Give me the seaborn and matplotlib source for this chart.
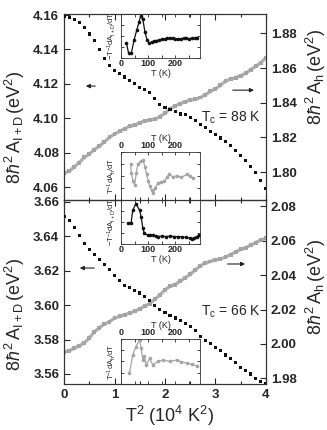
import matplotlib
matplotlib.use("Agg")
import matplotlib.pyplot as plt
import seaborn as sns
import pandas as pd
from matplotlib.ticker import MultipleLocator, NullFormatter

# ============================
# DATA
# ============================
t2 = [0.0, 0.1, 0.2, 0.3, 0.4, 0.5, 0.6, 0.7, 0.8, 0.9,
      1.0, 1.1, 1.2, 1.3, 1.4, 1.5, 1.6, 1.7, 1.8, 1.9,
      2.0, 2.1, 2.2, 2.3, 2.4, 2.5, 2.6, 2.7, 2.8, 2.9,
      3.0, 3.1, 3.2, 3.3, 3.4, 3.5, 3.6, 3.7, 3.8, 3.9, 4.0]

# Tc = 88 K
a_id_88 = [4.1590, 4.1585, 4.1575, 4.1555, 4.1530, 4.1490, 4.1450, 4.1400, 4.1345, 4.1305,
           4.1280, 4.1262, 4.1240, 4.1220, 4.1200, 4.1180, 4.1165, 4.1150, 4.1115, 4.1080,
           4.1065, 4.1050, 4.1040, 4.1025, 4.1020, 4.1005, 4.0985, 4.0965, 4.0945, 4.0925,
           4.0905, 4.0885, 4.0865, 4.0840, 4.0815, 4.0785, 4.0755, 4.0720, 4.0685, 4.0640, 4.0590]
a_h_88 = [1.7995, 1.8005, 1.8030, 1.8055, 1.8085, 1.8105, 1.8130, 1.8150, 1.8175, 1.8200,
          1.8220, 1.8235, 1.8250, 1.8265, 1.8270, 1.8285, 1.8295, 1.8300, 1.8305, 1.8320,
          1.8340, 1.8365, 1.8380, 1.8395, 1.8405, 1.8415, 1.8420, 1.8430, 1.8445, 1.8465,
          1.8480, 1.8500, 1.8525, 1.8535, 1.8545, 1.8555, 1.8570, 1.8590, 1.8610, 1.8630, 1.8660]

# Tc = 66 K
a_id_66 = [3.6515, 3.6490, 3.6450, 3.6405, 3.6355, 3.6320, 3.6295, 3.6265, 3.6235, 3.6205,
           3.6170, 3.6140, 3.6115, 3.6100, 3.6085, 3.6070, 3.6050, 3.6025, 3.6000, 3.5975,
           3.5955, 3.5940, 3.5925, 3.5910, 3.5895, 3.5875, 3.5850, 3.5820, 3.5795, 3.5775,
           3.5755, 3.5735, 3.5710, 3.5690, 3.5665, 3.5640, 3.5620, 3.5600, 3.5575, 3.5555, 3.5545]
a_h_66 = [1.9955, 1.9960, 1.9975, 1.9990, 2.0005, 2.0035, 2.0070, 2.0095, 2.0115, 2.0130,
          2.0150, 2.0160, 2.0170, 2.0180, 2.0190, 2.0205, 2.0220, 2.0235, 2.0260, 2.0285,
          2.0315, 2.0335, 2.0345, 2.0365, 2.0385, 2.0405, 2.0430, 2.0455, 2.0470, 2.0480,
          2.0490, 2.0495, 2.0505, 2.0520, 2.0535, 2.0550, 2.0560, 2.0575, 2.0590, 2.0605, 2.0615]

# insets: derivative curves (arb. units)
t_in_id_88 = [20, 28, 38, 48, 58, 66, 72, 80, 88, 96, 104, 112, 120, 130, 140, 150, 160,
              170, 180, 190, 200, 210, 220, 230, 240, 250, 260, 270, 280]
d_id_88 = [0.34, 0.11, 0.11, 0.41, 0.64, 0.82, 0.95, 0.89, 0.59, 0.41, 0.34, 0.36, 0.38,
           0.40, 0.41, 0.43, 0.44, 0.45, 0.46, 0.45, 0.44, 0.43, 0.44, 0.45, 0.45, 0.44,
           0.45, 0.45, 0.46]

t_in_h_88 = [35, 38, 44, 50, 56, 62, 72, 82, 88, 94, 100, 106, 112, 118, 126, 135, 147,
             159, 168, 177, 190, 206, 222, 241, 253, 265]
d_h_88 = [0.75, 0.55, 0.40, 0.32, 0.55, 0.75, 0.80, 0.82, 0.68, 0.53, 0.40, 0.28, 0.20,
          0.14, 0.25, 0.35, 0.38, 0.39, 0.47, 0.53, 0.48, 0.50, 0.47, 0.53, 0.49, 0.46]

t_in_id_66 = [24, 37, 43, 55, 68, 74, 80, 86, 98, 108, 117, 127, 136, 150, 165, 180, 195,
              210, 225, 240, 252, 260, 268, 278, 288]
d_id_66 = [0.47, 0.47, 0.77, 0.92, 0.77, 0.62, 0.36, 0.24, 0.20, 0.21, 0.20, 0.19, 0.17,
           0.18, 0.17, 0.18, 0.17, 0.17, 0.16, 0.15, 0.13, 0.12, 0.14, 0.17, 0.21]

t_in_h_66 = [31, 43, 55, 68, 74, 80, 86, 93, 105, 117, 136, 154, 179, 204, 222, 241, 260, 278]
d_h_66 = [0.24, 0.64, 0.83, 0.98, 0.79, 0.53, 0.61, 0.42, 0.57, 0.42, 0.50, 0.53, 0.50,
          0.53, 0.49, 0.46, 0.44, 0.40]

GREY = "#a4a4a4"
BLACK = "#111111"

# ============================
# STYLE
# ============================
sns.set_style("ticks")
plt.rcParams["font.family"] = ["Liberation Sans", "DejaVu Sans"]
plt.rcParams["font.weight"] = "bold"          # tick labels look heavy in the scan
plt.rcParams["mathtext.fontset"] = "custom"   # axis labels stay regular
plt.rcParams["mathtext.rm"] = "Liberation Sans:weight=normal"
plt.rcParams["mathtext.it"] = "Liberation Sans:style=italic:weight=normal"
plt.rcParams["xtick.direction"] = "in"
plt.rcParams["ytick.direction"] = "in"
plt.rcParams["axes.edgecolor"] = "#333333"
plt.rcParams["axes.linewidth"] = 0.8

fig = plt.figure(figsize=(3.27, 4.30), dpi=100)
ax_top = fig.add_axes([0.196, 0.535, 0.617, 0.432])
ax_bot = fig.add_axes([0.196, 0.107, 0.617, 0.428])

LBL_ID = r"$8\hbar^2\,\mathrm{A_{I+D}}\,\mathrm{(eV^2)}$"
LBL_H = r"$8\hbar^2\,\mathrm{A_h}\,\mathrm{(eV^2)}$"


def main_panel(ax, a_id, a_h, id_lim, h_lim, id_ticks, h_ticks, tc, tc_y,
               arr_l, arr_r, lab_l_y, lab_r_y, bottom):
    df = pd.DataFrame({"t2": t2, "a_id": a_id, "a_h": a_h})
    axr = ax.twinx()
    sns.lineplot(data=df, x="t2", y="a_h", ax=axr, color=GREY, lw=2.4, alpha=0.85)
    sns.scatterplot(data=df, x="t2", y="a_h", ax=axr, color=GREY, s=8,
                    marker="s", edgecolor="none")
    sns.scatterplot(data=df, x="t2", y="a_id", ax=ax, color=BLACK, s=5,
                    marker="s", edgecolor="none", zorder=3)
    ax.set_zorder(axr.get_zorder() + 1)
    ax.patch.set_visible(False)

    ax.set_xlim(0, 4)
    ax.set_ylim(*id_lim)
    axr.set_ylim(*h_lim)
    ax.set_yticks(id_ticks)
    axr.set_yticks(h_ticks)
    ax.set_yticklabels([f"{v:.2f}" for v in id_ticks])
    axr.set_yticklabels([f"{v:.2f}" for v in h_ticks])
    ax.xaxis.set_major_locator(MultipleLocator(1))
    ax.xaxis.set_minor_locator(MultipleLocator(0.5))
    ax.tick_params(axis="x", which="both", top=True, bottom=True)
    ax.tick_params(which="major", length=4, width=0.8, labelsize=9.5)
    ax.tick_params(which="minor", length=2.5, width=0.8)
    axr.tick_params(which="major", length=4, width=0.8, labelsize=9.5)
    for a in (ax, axr):
        for s in a.spines.values():
            s.set_visible(True)

    ax.set_ylabel(LBL_ID, fontsize=13, fontweight="normal")
    ax.yaxis.set_label_coords(-0.185, lab_l_y)
    axr.set_ylabel(LBL_H, fontsize=13, rotation=90, fontweight="normal")
    axr.yaxis.set_label_coords(1.19, lab_r_y)

    if bottom:
        ax.set_xticks([0, 1, 2, 3, 4])
        ax.set_xticklabels(["0", "1", "2", "3", "4"])
        ax.set_xlabel(r"$\mathrm{T^2\ (10^4\ K^2)}$", fontsize=13, fontweight="normal")
        ax.xaxis.set_label_coords(0.52, -0.11)
    else:
        ax.xaxis.set_major_formatter(NullFormatter())
        ax.set_xlabel("")

    ax.text(0.975, tc_y, r"$\mathrm{T_c}$ = " + tc + " K", transform=ax.transAxes,
            ha="right", va="center", fontsize=10, fontweight="normal")
    ax.annotate("", xy=(arr_l[1], arr_l[2]), xytext=(arr_l[0], arr_l[2]),
                xycoords="axes fraction",
                arrowprops=dict(arrowstyle="-|>", lw=0.8, color="#222222",
                                mutation_scale=6))
    ax.annotate("", xy=(arr_r[1], arr_r[2]), xytext=(arr_r[0], arr_r[2]),
                xycoords="axes fraction",
                arrowprops=dict(arrowstyle="-|>", lw=0.8, color="#222222",
                                mutation_scale=6))
    return axr


main_panel(ax_top, a_id_88, a_h_88, (4.0525, 4.1605), (1.784, 1.891),
           [4.06, 4.08, 4.10, 4.12, 4.14, 4.16], [1.80, 1.82, 1.84, 1.86, 1.88],
           "88", 0.44, (0.168, 0.094, 0.613), (0.822, 0.955, 0.591),
           0.39, 0.66, bottom=False)
main_panel(ax_bot, a_id_66, a_h_66, (3.5542, 3.661), (1.9767, 2.0838),
           [3.56, 3.58, 3.60, 3.62, 3.64, 3.66], [1.98, 2.00, 2.02, 2.04, 2.06, 2.08],
           "66", 0.391, (0.163, 0.064, 0.630), (0.797, 0.911, 0.652),
           0.38, 0.527, bottom=True)


def inset(rect, t, d, color, ylab, top_labels):
    axi = fig.add_axes(rect)
    axi.set_facecolor("white")
    df = pd.DataFrame({"T": t, "d": d})
    sns.lineplot(data=df, x="T", y="d", ax=axi, color=color, lw=0.9,
                 marker="o", markersize=2.6, markeredgewidth=0,
                 markerfacecolor=color)
    axi.set_xlim(0, 290)
    axi.set_ylim(0, 1)
    axi.xaxis.set_major_locator(MultipleLocator(100))
    axi.xaxis.set_minor_locator(MultipleLocator(50))
    axi.yaxis.set_major_locator(MultipleLocator(0.25))
    axi.yaxis.set_major_formatter(NullFormatter())
    axi.tick_params(which="both", top=True, bottom=True, left=True, right=True,
                    length=2, width=0.6, labelsize=6.5, pad=1)
    if top_labels:
        axi.tick_params(axis="x", labeltop=True, labelbottom=False)
        axi.xaxis.set_label_position("top")
    axi.set_xlabel("T (K)", fontsize=6.5, labelpad=0.5)
    axi.set_ylabel(ylab, fontsize=5.5, labelpad=1)
    for s in axi.spines.values():
        s.set_linewidth(0.6)
    return axi


LBL_DID = r"$\mathrm{-T^{-1}dA_{I+D}/dT}$"
LBL_DH = r"$\mathrm{T^{-1}dA_h/dT}$"

inset([0.370, 0.865, 0.2416, 0.102], t_in_id_88, d_id_88, BLACK, LBL_DID, False)
inset([0.370, 0.535, 0.2416, 0.112], t_in_h_88, d_h_88, GREY, LBL_DH, True)
inset([0.370, 0.4326, 0.2416, 0.102], t_in_id_66, d_id_66, BLACK, LBL_DID, False)
inset([0.370, 0.107, 0.2416, 0.105], t_in_h_66, d_h_66, GREY, LBL_DH, True)

plt.savefig("out.png", dpi=100)
